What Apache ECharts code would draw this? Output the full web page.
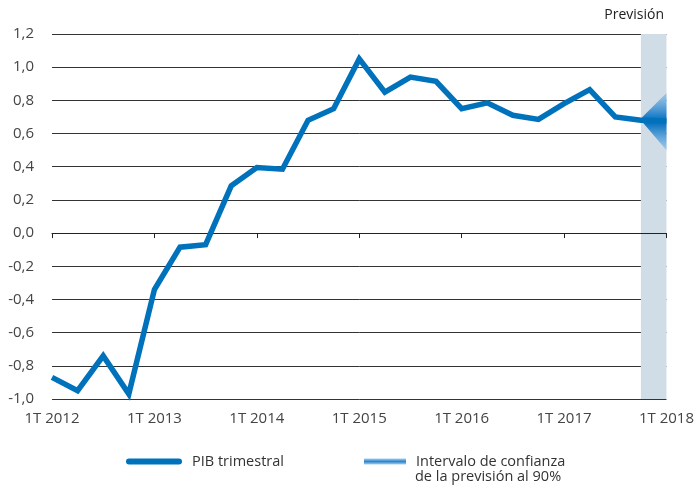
<!DOCTYPE html>
<html>
<head>
<meta charset="utf-8">
<script src="https://cdn.jsdelivr.net/npm/echarts@6/dist/echarts.min.js"></script>
<style>html,body{margin:0;padding:0;background:#fff}#c{width:697px;height:486px}</style>
</head>
<body>
<div id="c"></div>
<script>
const quarters = ['1T 2012','2T 2012','3T 2012','4T 2012','1T 2013','2T 2013','3T 2013','4T 2013',
  '1T 2014','2T 2014','3T 2014','4T 2014','1T 2015','2T 2015','3T 2015','4T 2015',
  '1T 2016','2T 2016','3T 2016','4T 2016','1T 2017','2T 2017','3T 2017','4T 2017','1T 2018'];
const gdp = [-0.87,-0.95,-0.74,-0.97,-0.34,-0.085,-0.07,0.285,0.395,0.385,0.68,0.75,
  1.05,0.85,0.94,0.915,0.75,0.785,0.71,0.685,0.78,0.865,0.70,0.68,0.675];
const fanX = ['4T 2017','1T 2018'];
const fanLow = [0.68,0.50];
const fanHigh = [0.69,0.845];
const forecastStart = '4T 2017';
const forecastEnd = '1T 2018';
const yTicks = {min:-1.0, max:1.2, interval:0.2};

const FONT = "'Open Sans', sans-serif";
const fanGrad = new echarts.graphic.LinearGradient(0,0,0,1,[
  {offset:0,color:'rgba(120,180,230,0.55)'},
  {offset:0.42,color:'#1a7cc7'},
  {offset:0.5,color:'#0a6cb8'},
  {offset:0.58,color:'#1a7cc7'},
  {offset:1,color:'rgba(120,180,230,0.55)'}]);
const legGrad = new echarts.graphic.LinearGradient(0,0,0,1,[
  {offset:0,color:'#a9cfee'},{offset:0.5,color:'#2a86cf'},{offset:1,color:'#a9cfee'}]);

const chart = echarts.init(document.getElementById('c'), null, {renderer:'canvas'});
chart.setOption({
  animation:false,
  grid:{left:52,right:30,top:34,bottom:87},
  xAxis:[{
    type:'category', data:quarters, boundaryGap:false,
    axisLine:{show:false, onZero:false}, axisTick:{show:false},
    axisLabel:{interval:3, margin:12, fontSize:15, color:'#444', fontFamily:FONT},
    splitLine:{show:false}
  },{
    type:'category', data:quarters, boundaryGap:false, position:'bottom', z:1,
    axisLine:{show:true, onZero:true, lineStyle:{color:'#222', width:1}},
    axisTick:{show:true, interval:3, length:5, lineStyle:{color:'#222', width:1}},
    axisLabel:{show:false}, splitLine:{show:false}
  }],
  yAxis:{
    type:'value', min:yTicks.min, max:yTicks.max, interval:yTicks.interval, z:1,
    axisLine:{show:false}, axisTick:{show:false},
    axisLabel:{margin:18, fontSize:15, color:'#444', fontFamily:FONT,
      formatter:v=>v.toFixed(1).replace('.',',')},
    splitLine:{lineStyle:{color:'#333', width:1}}
  },
  legend:[{
    left:121, top:449, itemWidth:56, itemHeight:6,
    data:[{name:'PIB trimestral', icon:'path://M3,0 L53,0 A3,3 0 0 1 53,6 L3,6 A3,3 0 0 1 3,0 Z'}],
    textStyle:{fontSize:14.5, color:'#333', fontFamily:FONT, padding:[0,0,0,5]}
  },{
    left:359, top:449, itemWidth:42, itemHeight:6,
    data:[{name:'Intervalo de confianza de la previsión al 90%', icon:'rect', itemStyle:{color:legGrad}}],
    formatter:()=> 'Intervalo de confianza',
    textStyle:{fontSize:14.5, color:'#333', fontFamily:FONT, padding:[0,0,0,5]}
  }],
  graphic:[
    {type:'text', right:33, top:8, style:{text:'Previsión', fontSize:14, fill:'#222', fontFamily:FONT}},
    {type:'text', left:415, top:469, style:{text:'de la previsión al 90%', fontSize:14.5, fill:'#333', fontFamily:FONT}}
  ],
  series:[{
    name:'band', type:'line', data:[], z:0, silent:true,
    markArea:{silent:true, itemStyle:{color:'#d1dde6'},
      data:[[{xAxis:forecastStart},{xAxis:forecastEnd}]]}
  },{
    name:'Intervalo de confianza de la previsión al 90%', type:'custom', z:3,
    data:fanX.map((x,i)=>[x,fanLow[i],fanHigh[i]]),
    itemStyle:{color:legGrad},
    renderItem:(params, api)=>{
      if(params.dataIndex!==fanX.length-1) return null;
      const top=[], bot=[];
      for(let i=0;i<fanX.length;i++){
        top.push(api.coord([fanX[i],fanHigh[i]]));
        bot.unshift(api.coord([fanX[i],fanLow[i]]));
      }
      return {type:'polygon', shape:{points:top.concat(bot)}, style:{fill:fanGrad}};
    }
  },{
    name:'PIB trimestral', type:'line', data:gdp, z:4,
    symbol:'none', lineStyle:{color:'#0072bc', width:5.5, join:'miter'},
    itemStyle:{color:'#0072bc'}
  }]
});
</script>
</body>
</html>
